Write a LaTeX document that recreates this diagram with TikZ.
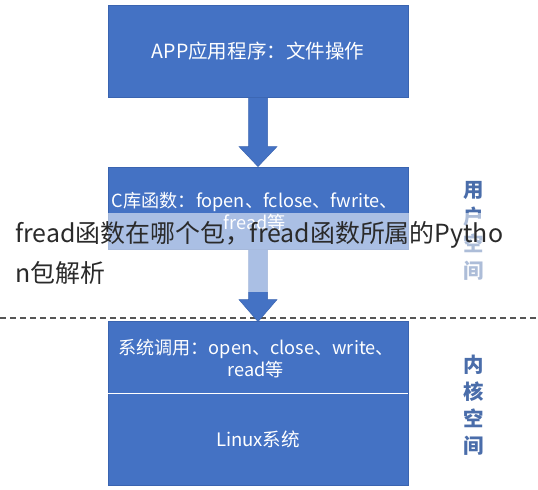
\documentclass[tikz,border=0pt]{standalone}
\usepackage{fontspec}
\setmainfont{Noto Sans CJK SC}
\usetikzlibrary{calc}
\definecolor{boxblue}{HTML}{4472C4}
\definecolor{boxedge}{HTML}{3A64B0}
\definecolor{sidetext}{HTML}{4A6DAA}
\definecolor{overlaytext}{HTML}{2A2A2A}
\definecolor{dashgray}{HTML}{555555}
\tikzset{
  bluebox/.style={draw=boxedge, line width=0.8bp, fill=boxblue, text=white,
    inner sep=0pt, minimum width=300bp, align=center,
    font=\fontsize{18.6}{23}\selectfont},
  boxtext/.style={text=white, align=center, inner sep=0pt,
    font=\fontsize{18.2}{22}\selectfont},
  sidelabel/.style={text=sidetext, align=center, inner sep=0pt,
    font=\bfseries\fontsize{20.5}{27}\selectfont},
  flowarrow/.style={fill=boxblue, draw=boxedge, line width=0.5bp},
  spacedivider/.style={draw=dashgray, line width=1.1bp, dash pattern=on 6bp off 4bp},
  overlayband/.style={fill=white, opacity=0.55},
  overlaytitle/.style={text=overlaytext, align=left, inner sep=0pt,
    font=\fontsize{25}{40}\selectfont}
}
\begin{document}
\begin{tikzpicture}[x=1bp,y=-1bp]
\useasboundingbox (0,0) rectangle (538,490);
\fill[white] (0,0) rectangle (538,490);

% dashed divider between user space and kernel space
\coordinate (divl) at (0,318);
\coordinate (divr) at (538,318);
\draw[spacedivider] (divl) -- (divr);

% boxes
\node[bluebox, minimum height=92bp, font=\fontsize{19.6}{23}\selectfont] (app) at (258,51) {APP应用程序：文件操作};
\node[bluebox, minimum height=82bp] (clib) at (258,208) {};
\node[boxtext] (clibtext) at (255,211.5) {C库函数：fopen、fclose、fwrite、\\fread等};
\node[bluebox, minimum height=72bp] (sys) at (258,357) {};
\node[boxtext] (systext) at (256,358.5) {系统调用：open、close、write、\\read等};
\node[bluebox, minimum height=92bp] (linux) at (258,439) {Linux系统};
\draw[white, line width=1.2bp] (sys.south west) -- (sys.south east);

% arrows
\filldraw[flowarrow] ($(app.south)+(-9.5,0)$) -- ($(clib.north)+(-9.5,-20)$)
  -- ($(clib.north)+(-19,-20)$) -- (clib.north) -- ($(clib.north)+(19,-20)$)
  -- ($(clib.north)+(9.5,-20)$) -- ($(app.south)+(9.5,0)$) -- cycle;
\filldraw[flowarrow] ($(clib.south)+(-9.5,0)$) -- ($(sys.north)+(-9.5,-21)$)
  -- ($(sys.north)+(-19,-21)$) -- ($(sys.north)+(0,1)$) -- ($(sys.north)+(19,-21)$)
  -- ($(sys.north)+(9.5,-21)$) -- ($(clib.south)+(9.5,0)$) -- cycle;

% side labels
\node[sidelabel] (user) at (474,231) {用\\户\\空\\间};
\node[sidelabel] (kernel) at (474,405) {内\\核\\空\\间};

% overlay band and title
\fill[overlayband] (0,213) rectangle (538,292);
\node[overlaytitle, anchor=west] (title) at (15,253) {fread函数在哪个包，fread函数所属的Pytho\\n包解析};
\end{tikzpicture}
\end{document}
